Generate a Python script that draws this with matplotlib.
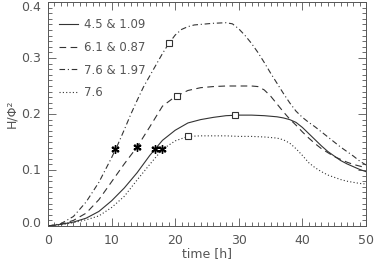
import matplotlib
matplotlib.use("Agg")
import matplotlib.pyplot as plt
from matplotlib.ticker import MultipleLocator
from matplotlib.transforms import ScaledTranslation

# ---- data ----
x_solid = [0, 2, 4, 6, 8, 10, 12, 14, 16, 18, 20, 22, 24, 26, 28, 30, 32, 34, 36, 37, 38, 39, 40, 41, 42, 43, 44, 45, 46, 47, 48, 49, 50]
y_solid = [0, 0.003, 0.007, 0.014, 0.026, 0.045, 0.068, 0.095, 0.126, 0.153, 0.171, 0.184, 0.190, 0.194, 0.197, 0.198, 0.198, 0.197, 0.195, 0.193, 0.190, 0.185, 0.176, 0.165, 0.154, 0.143, 0.133, 0.125, 0.117, 0.111, 0.106, 0.101, 0.097]

x_dash = [0, 2, 4, 6, 8, 10, 12, 14, 16, 18, 20, 22, 24, 26, 28, 30, 32, 33, 34, 35, 36, 37, 38, 39, 40, 41, 42, 43, 44, 45, 46, 47, 48, 49, 50]
y_dash = [0, 0.003, 0.010, 0.023, 0.047, 0.079, 0.111, 0.141, 0.177, 0.214, 0.231, 0.242, 0.247, 0.249, 0.250, 0.250, 0.250, 0.249, 0.243, 0.232, 0.218, 0.204, 0.191, 0.180, 0.168, 0.157, 0.147, 0.138, 0.131, 0.124, 0.119, 0.114, 0.110, 0.107, 0.104]

x_dashdot = [0, 2, 4, 6, 8, 10, 11, 12, 13, 14, 15, 16, 17, 18, 19, 20, 21, 22, 23, 24, 26, 28, 29, 30, 31, 32, 33, 34, 35, 36, 37, 38, 39, 40, 41, 42, 43, 44, 45, 46, 47, 48, 49, 50]
y_dashdot = [0, 0.004, 0.017, 0.043, 0.078, 0.122, 0.146, 0.172, 0.199, 0.224, 0.248, 0.268, 0.288, 0.308, 0.326, 0.341, 0.351, 0.356, 0.359, 0.360, 0.362, 0.363, 0.361, 0.352, 0.340, 0.326, 0.310, 0.292, 0.273, 0.255, 0.237, 0.220, 0.205, 0.194, 0.185, 0.177, 0.168, 0.159, 0.150, 0.141, 0.133, 0.125, 0.116, 0.109]

x_dot = [0, 2, 4, 6, 8, 10, 12, 14, 16, 18, 20, 22, 24, 26, 28, 30, 32, 34, 36, 37, 38, 39, 40, 41, 42, 43, 44, 45, 46, 47, 48, 49, 50]
y_dot = [0, 0.002, 0.006, 0.011, 0.018, 0.033, 0.053, 0.082, 0.110, 0.137, 0.152, 0.160, 0.161, 0.161, 0.161, 0.160, 0.160, 0.159, 0.157, 0.154, 0.148, 0.138, 0.126, 0.113, 0.104, 0.097, 0.091, 0.087, 0.083, 0.080, 0.078, 0.076, 0.075]

labels = ["4.5 & 1.09", "6.1 & 0.87", "7.6 & 1.97", "7.6"]

# square markers (one per curve: solid, dashed, dash-dot, dotted)
sq_x = [29.4, 20.3, 19.1, 22.0]
sq_y = [0.198, 0.233, 0.327, 0.160]
# asterisk markers
st_x = [16.8, 14.0, 10.6, 18.0]
st_y = [0.1375, 0.141, 0.1375, 0.137]

xticks = [0, 10, 20, 30, 40, 50]
yticks = [0.0, 0.1, 0.2, 0.3, 0.4]

# ---- figure ----
txt = "#555555"
plt.rcParams['font.family'] = ['DejaVu Sans']
fig = plt.figure(figsize=(3.74, 2.65), dpi=100)
ax = fig.add_axes([48/374, 1 - 226/265, 318/374, 224/265])

lc = "#333333"
lw = 0.8
ax.plot(x_solid, y_solid, color=lc, lw=lw, ls='-', label=labels[0])
ax.plot(x_dash, y_dash, color=lc, lw=lw, ls=(0, (6, 4)), label=labels[1])
ax.plot(x_dashdot, y_dashdot, color=lc, lw=lw, ls=(0, (5, 2.5, 1, 2.5)), label=labels[2])
ax.plot(x_dot, y_dot, color=lc, lw=lw, ls=(0, (1, 2)), label=labels[3])

ax.plot(sq_x, sq_y, ls='none', marker='s', ms=5, mfc='white', mec=lc, mew=0.8)
ax.plot(st_x, st_y, ls='none', marker=(6, 2, 0), ms=6, color='black', mew=1.0)
ax.plot(st_x, st_y, ls='none', marker='x', ms=4.5, color='black', mew=1.0)

ax.set_xlim(0, 50)
ax.set_ylim(0, 0.4)
ax.set_xticks(xticks)
ax.set_yticks(yticks)
ax.set_yticklabels([f"{v:.1f}" for v in yticks])
ax.xaxis.set_minor_locator(MultipleLocator(1))
ax.yaxis.set_minor_locator(MultipleLocator(0.01))
ax.tick_params(which='both', direction='in', top=True, right=True, colors=txt, labelcolor=txt, labelsize=9)
ax.tick_params(which='major', length=6, width=0.6)
ax.tick_params(which='minor', length=3, width=0.6)
ax.tick_params(axis='x', pad=6)
ax.tick_params(axis='y', pad=5)
for s in ax.spines.values():
    s.set_color(txt)
    s.set_linewidth(0.7)

# small vertical nudges of the y tick labels (as in the reference)
shifts_px = [4, 1, 1, 1, -4]
for lab, d in zip(ax.get_yticklabels(), shifts_px):
    lab.set_transform(lab.get_transform() + ScaledTranslation(0, d / 100, fig.dpi_scale_trans))

ax.set_xlabel("time [h]", color=txt, fontsize=9, labelpad=0)
ax.set_ylabel("H/Φ²", color=txt, fontsize=9, labelpad=2)

leg = ax.legend(loc='upper left', bbox_to_anchor=(0.0, 0.975), frameon=False,
                fontsize=8.5, handlelength=1.65, handletextpad=0.5, labelspacing=0.82,
                labelcolor=txt)

fig.savefig("out.png", dpi=100)
